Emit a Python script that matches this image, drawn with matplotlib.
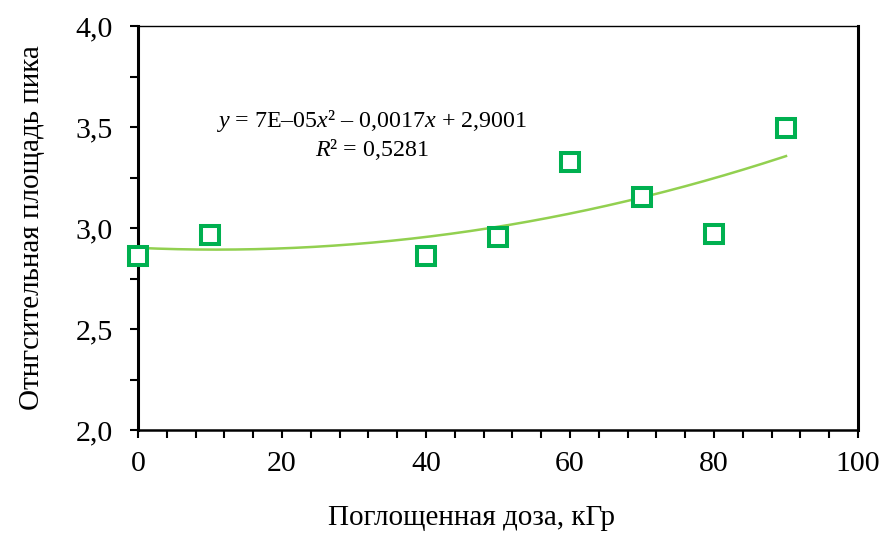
import numpy as np
import matplotlib
matplotlib.use("Agg")
import matplotlib.pyplot as plt
from matplotlib.ticker import MultipleLocator, FuncFormatter

dose = [0, 10, 40, 50, 60, 70, 80, 90]
area = [2.86, 2.965, 2.86, 2.955, 3.325, 3.153, 2.97, 3.495]
x_ticks = [0, 20, 40, 60, 80, 100]
y_ticks = [2.0, 2.5, 3.0, 3.5, 4.0]

plt.rcParams['font.family'] = ['Liberation Serif', 'DejaVu Serif']
plt.rcParams['mathtext.fontset'] = 'custom'
plt.rcParams['mathtext.rm'] = 'Liberation Serif'
plt.rcParams['mathtext.it'] = 'Liberation Serif:italic'

fig = plt.figure(figsize=(8.85, 5.33), dpi=100)
ax = fig.add_axes([0.156, 0.1932, 0.8135, 0.758])

coef = np.polyfit(dose, area, 2)
xf = np.linspace(min(dose), max(dose), 200)
ax.plot(xf, np.polyval(coef, xf), color='#92D050', lw=1.8, zorder=2)
ax.plot(dose, area, linestyle='none', marker='s', markersize=13.3,
        markerfacecolor='white', markeredgecolor='#00B050', markeredgewidth=2.9,
        zorder=3, clip_on=False)

ax.set_xlim(0, 100)
ax.set_ylim(2.0, 4.0)
ax.set_xticks(x_ticks)
ax.set_yticks(y_ticks)
ax.xaxis.set_minor_locator(MultipleLocator(4))
ax.yaxis.set_minor_locator(MultipleLocator(0.25))
ax.xaxis.set_major_formatter(FuncFormatter(lambda v, p: f"{v:.0f}"))
ax.yaxis.set_major_formatter(FuncFormatter(lambda v, p: f"{v:.1f}".replace('.', ',')))
ax.tick_params(which='both', direction='out', length=6, width=1.5, labelsize=21.5, colors='black')
ax.tick_params(axis='x', pad=9)
ax.tick_params(axis='y', pad=12)

ax.spines['left'].set_linewidth(2.2)
ax.spines['bottom'].set_linewidth(1.8)
ax.spines['right'].set_linewidth(2.2)
ax.spines['top'].set_linewidth(1.0)

ax.set_xlabel("Поглощенная доза, кГр", fontsize=21, labelpad=20)
ax.xaxis.label.set_x(0.463)
ax.set_ylabel("Отнгсительная площадь пика", fontsize=21, labelpad=22)

ax.text(0.325, 0.765, r"$\mathit{y}$ = 7E–05$\mathit{x}$² – 0,0017$\mathit{x}$ + 2,9001",
        transform=ax.transAxes, ha='center', va='center', fontsize=17.3)
ax.text(0.325, 0.695, r"$\mathit{R}$² = 0,5281",
        transform=ax.transAxes, ha='center', va='center', fontsize=17.3)

fig.savefig("out.png", dpi=100)
